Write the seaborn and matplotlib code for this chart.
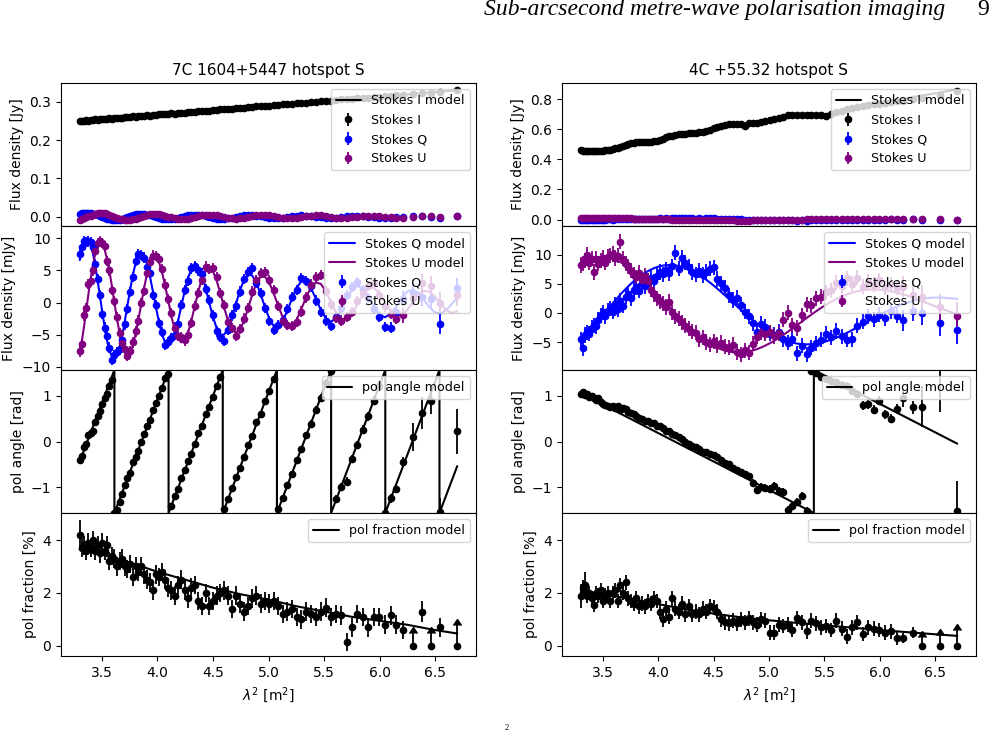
import numpy as np
import matplotlib
matplotlib.use("Agg")
import matplotlib.pyplot as plt
import seaborn as sns

sns.set_style("ticks")
plt.rcParams.update({
    "font.family": ["DejaVu Sans"],
    "font.size": 10,
    "axes.edgecolor": "black",
    "axes.labelcolor": "black",
    "text.color": "black",
    "xtick.color": "black",
    "ytick.color": "black",
    "axes.linewidth": 0.8,
    "xtick.major.size": 3.5, "ytick.major.size": 3.5,
    "xtick.major.width": 0.8, "ytick.major.width": 0.8,
    "xtick.direction": "out", "ytick.direction": "out",
    "axes.titlesize": 11, "axes.labelsize": 10,
    "xtick.labelsize": 10, "ytick.labelsize": 10,
    "legend.fontsize": 9.1,
    "legend.framealpha": 0.8,
    "legend.edgecolor": "0.8",
    "legend.fancybox": True,
})

nan = np.nan

# ---------------- data ----------------
titles = ["7C 1604+5447 hotspot S", "4C +55.32 hotspot S"]
header_text = "Sub-arcsecond metre-wave polarisation imaging"
page_number = "9"
xticks = [3.5, 4.0, 4.5, 5.0, 5.5, 6.0, 6.5]

lam2 = [3.300, 3.319, 3.338, 3.358, 3.378, 3.398, 3.418, 3.439, 3.460, 3.481,
        3.502, 3.523, 3.545, 3.567, 3.589, 3.612, 3.635, 3.658, 3.681, 3.705,
        3.729, 3.753, 3.778, 3.803, 3.828, 3.853, 3.879, 3.905, 3.932, 3.959,
        3.986, 4.013, 4.041, 4.069, 4.097, 4.126, 4.155, 4.184, 4.214, 4.244,
        4.275, 4.306, 4.337, 4.369, 4.401, 4.433, 4.466, 4.499, 4.533, 4.567,
        4.601, 4.636, 4.671, 4.707, 4.743, 4.779, 4.816, 4.853, 4.891, 4.929,
        4.968, 5.007, 5.047, 5.087, 5.128, 5.169, 5.211, 5.253, 5.296, 5.339,
        5.383, 5.427, 5.472, 5.517, 5.563, 5.609, 5.656, 5.703, 5.751, 5.799,
        5.848, 5.897, 5.947, 5.997, 6.048, 6.100, 6.152, 6.210, 6.300, 6.380,
        6.460, 6.545, 6.700]

# ---- 7C 1604+5447 (left) ----
stokes_i_left = [0.250, 0.251, 0.251, 0.252, 0.251, 0.253, 0.252, 0.254, 0.253, 0.255,
                 0.254, 0.256, 0.255, 0.257, 0.256, 0.258, 0.257, 0.259, 0.258, 0.260,
                 0.261, 0.260, 0.262, 0.261, 0.263, 0.262, 0.264, 0.265, 0.264, 0.266,
                 0.266, 0.267, 0.268, 0.267, 0.269, 0.270, 0.269, 0.271, 0.272, 0.271,
                 0.273, 0.274, 0.273, 0.275, 0.276, 0.277, 0.277, 0.278, 0.279, 0.280,
                 0.281, 0.281, 0.282, 0.284, 0.283, 0.285, 0.286, 0.286, 0.288, 0.288,
                 0.289, 0.290, 0.291, 0.292, 0.293, 0.294, 0.295, 0.296, 0.297, 0.298,
                 0.299, 0.300, 0.301, 0.302, 0.303, 0.304, 0.306, 0.306, 0.308, 0.309,
                 0.310, 0.311, 0.312, 0.313, 0.315, 0.316, 0.317, 0.318, 0.321, 0.322,
                 0.324, 0.326, 0.331]
stokes_q_left = [7.5, 8.7, 9.6, 9.4, 9.5, 9.4, 8.6, 6.0, 3.6, 1.2,
                 -1.8, -3.9, -5.2, -7.0, -8.9, -8.2, -7.7, -7.3, -5.9, -3.4,
                 -1.0, 1.6, 4.0, 6.5, 7.5, 7.4, 7.0, 5.6, 4.6, 1.2,
                 -0.4, -3.2, -4.6, -6.6, -6.2, -5.5, -5.0, -3.3, -0.4, 2.0,
                 3.4, 5.3, 5.7, 5.0, 4.5, 2.1, 0.4, -2.0, -4.5, -5.4,
                 -6.0, -4.2, -2.0, -0.6, 1.7, 3.7, 4.7, 5.3, 3.0, 1.5,
                 -0.9, -2.9, -4.2, -3.5, -2.7, -1.0, 0.9, 2.0, 3.8, 3.3,
                 2.5, 0.3, -1.5, -2.8, -3.6, -2.3, -0.8, 1.2, 2.4, 3.2,
                 2.0, 0.7, -1.0, -2.2, -3.8, -3.9, -1.5, 0.6, 1.5, 0.8,
                 0.5, -3.3, 2.2]
stokes_u_left = [-7.6, -6.5, -2.0, -0.8, 2.9, 3.3, 5.0, 8.0, 9.2, 9.6,
                 9.3, 8.8, 6.5, 5.0, 2.0, 0.2, -2.3, -4.8, -6.3, -7.2,
                 -8.3, -7.5, -6.2, -4.5, -2.8, -0.1, 1.8, 4.6, 6.3, 7.3,
                 7.2, 6.8, 5.2, 2.8, 0.5, -1.6, -3.9, -5.2, -5.4, -5.9,
                 -5.0, -3.2, -0.5, 1.5, 3.5, 5.6, 5.2, 5.4, 4.0, 1.5,
                 -0.4, -3.0, -4.0, -5.2, -4.1, -2.5, -0.8, 1.7, 3.5, 4.6,
                 4.7, 3.5, 2.0, -0.5, -2.8, -3.5, -3.7, -3.0, -1.4, 0.8,
                 2.8, 3.9, 4.3, 1.8, -0.3, -2.4, -2.8, -2.3, -1.5, 0.2,
                 1.5, 2.6, 3.0, 1.2, -0.6, -1.8, -2.5, -2.0, 0.7, 3.0,
                 2.6, 0.0, 1.1]
pol_angle_left = [-0.41, -0.31, -0.12, -0.06, 0.14, 0.18, 0.22, 0.42, 0.57, 0.68,
                  0.82, 0.95, 1.05, 1.22, 1.36, -1.56, -1.50, -1.33, -1.15, -0.95,
                  -0.80, -0.70, -0.45, -0.33, -0.21, 0.00, 0.16, 0.34, 0.47, 0.69,
                  0.85, 1.00, 1.17, 1.40, 1.49, -1.42, -1.19, -1.04, -0.80, -0.62,
                  -0.43, -0.28, -0.05, 0.18, 0.34, 0.60, 0.75, 0.98, 1.21, 1.41,
                  -1.49, -1.27, -1.03, -0.78, -0.58, -0.35, -0.07, 0.11, 0.42, 0.60,
                  0.89, 1.10, 1.38, -1.48, -1.25, -0.96, -0.72, -0.41, -0.16, 0.14,
                  0.38, 0.69, 0.96, 1.28, 1.54, -1.27, -1.00, -0.88, -0.38, -0.08,
                  0.26, 0.55, 0.90, 1.22, -1.56, -1.25, -1.04, -0.45, 0.10, 0.63,
                  0.90, -1.55, 0.22]
pol_frac_left = [4.2, 3.7, 3.8, 3.6, 3.9, 3.7, 4.0, 3.6, 3.8, 3.5,
                 3.9, 3.6, 3.8, 3.2, 3.4, 3.3, 3.0, 3.2, 3.3, 3.0,
                 2.9, 3.1, 2.6, 3.0, 2.8, 3.0, 2.7, 2.5, 2.4, 2.1,
                 2.7, 2.6, 2.8, 2.5, 2.2, 2.1, 1.9, 2.3, 2.5, 2.1,
                 1.8, 2.2, 2.3, 1.7, 1.5, 2.0, 1.5, 1.7, 1.9, 2.0,
                 2.1, 1.9, 1.4, 1.9, 1.6, 1.3, 1.5, 1.8, 1.9, 1.6,
                 1.7, 1.6, 1.7, 1.5, 1.2, 1.3, 1.4, 1.1, 1.0, 1.3,
                 1.2, 1.1, 1.3, 1.45, 1.1, 1.2, 1.15, 0.15, 0.7, 1.2,
                 1.1, 0.7, 1.1, 1.1, 0.8, 1.15, 0.8, 0.6, nan, 1.3,
                 nan, 0.7, nan]
err_i_left = 0.002
err_qu_left = [0.8] * 87 + [1.2, 1.3, 1.4, 1.5, 1.6, 1.6]
err_angle_left = [0.05] * 70 + [0.09] * 10 + [0.1] * 7 + [0.12, 0.3, 0.35, 0.3, 0.3, 0.5]
err_frac_left = [0.55] + [0.35] * 86 + [0.35, 0.3, 0.4, 0.3, 0.35, 0.3]
limit_lam2_left = [6.300, 6.460, 6.700]
limit_frac_left = [0.5, 0.5, 0.8]

model_i_lam2_left = [3.30, 3.80, 4.30, 4.80, 5.30, 5.80, 6.30, 6.70]
model_i_left = [0.250, 0.2618, 0.2735, 0.2853, 0.2970, 0.3088, 0.3205, 0.3300]
model_qu_tail_lam2 = [6.20, 6.25, 6.30, 6.35, 6.40, 6.45, 6.50, 6.55, 6.60, 6.65, 6.70]
model_q_left = [6.6, 8.2, 9.3, 9.9, 9.8, 9.0, 7.7, 5.8, 3.5, 1.1,
                -1.4, -3.7, -5.9, -7.4, -8.4, -8.7, -8.2, -7.0, -5.3, -3.0,
                -0.5, 1.9, 4.3, 6.1, 7.2, 7.6, 7.2, 6.0, 4.1, 1.7,
                -0.7, -3.0, -5.0, -6.2, -6.7, -6.2, -4.9, -3.0, -0.6, 1.7,
                3.8, 5.2, 5.8, 5.4, 4.2, 2.3, 0.0, -2.2, -4.0, -5.0,
                -5.0, -4.0, -2.3, -0.2, 1.9, 3.5, 4.4, 4.2, 3.1, 1.3,
                -0.7, -2.5, -3.7, -3.8, -2.9, -1.3, 0.6, 2.3, 3.3, 3.2,
                2.2, 0.6, -1.2, -2.5, -3.0, -2.4, -1.1, 0.6, 2.0, 2.6,
                2.2, 1.0, -0.5, -1.8, -2.3, -1.8, -0.6,
                0.69, 1.69, 1.98, 1.48, 0.43, -0.73, -1.55, -1.72, -1.20, -0.25, 0.74]
model_u_left = [-7.9, -6.0, -3.8, -1.3, 1.3, 3.7, 5.8, 7.5, 8.7, 9.2,
                9.1, 8.3, 6.8, 4.9, 2.6, 0.0, -2.5, -4.7, -6.5, -7.7,
                -8.1, -7.8, -6.7, -4.9, -2.7, -0.3, 2.2, 4.4, 6.0, 7.0,
                7.0, 6.3, 4.7, 2.6, 0.3, -2.2, -4.2, -5.6, -6.2, -5.9,
                -4.7, -2.8, -0.5, 1.8, 3.8, 5.0, 5.4, 4.9, 3.4, 1.4,
                -0.8, -2.9, -4.2, -4.7, -4.2, -2.9, -0.9, 1.2, 3.0, 4.0,
                4.0, 3.1, 1.4, -0.5, -2.3, -3.4, -3.5, -2.7, -1.0, 0.8,
                2.4, 3.1, 2.9, 1.7, 0.0, -1.6, -2.6, -2.7, -1.8, -0.3,
                1.2, 2.2, 2.3, 1.5, 0.1, -1.3, -2.1,
                -1.97, -1.13, 0.10, 1.24, 1.82, 1.67, 0.88, -0.22, -1.17, -1.62, -1.39]
model_angle_lam2_left = [3.300, 3.612, 3.612, 4.100, 4.100, 4.588, 4.588, 5.076,
                         5.076, 5.564, 5.564, 6.052, 6.052, 6.540, 6.540, 6.700]
model_angle_left = [-0.438, 1.571, -1.571, 1.571, -1.571, 1.571, -1.571, 1.571,
                    -1.571, 1.571, -1.571, 1.571, -1.571, 1.571, -1.571, -0.541]
model_frac_lam2 = [3.30, 3.50, 3.75, 4.00, 4.25, 4.50, 4.75, 5.00, 5.25, 5.50,
                   5.75, 6.00, 6.25, 6.50, 6.70]
model_frac_left = [3.65, 3.45, 3.15, 2.80, 2.50, 2.20, 1.95, 1.75, 1.50, 1.30,
                   1.10, 0.95, 0.80, 0.60, 0.47]

# ---- 4C +55.32 (right) ----
stokes_i_right = [0.460, 0.458, 0.456, 0.455, 0.454, 0.455, 0.456, 0.455, 0.457, 0.457,
                  0.459, 0.461, 0.464, 0.466, 0.469, 0.473, 0.477, 0.484, 0.492, 0.499,
                  0.505, 0.509, 0.511, 0.513, 0.514, 0.516, 0.517, 0.518, 0.519, 0.521,
                  0.524, 0.529, 0.537, 0.547, 0.554, 0.559, 0.564, 0.567, 0.569, 0.572,
                  0.574, 0.577, 0.579, 0.582, 0.585, 0.589, 0.597, 0.608, 0.618, 0.626,
                  0.631, 0.634, 0.636, 0.635, 0.639, 0.623, 0.641, 0.643, 0.646, 0.650,
                  0.655, 0.660, 0.667, 0.675, 0.685, 0.695, 0.698, 0.696, 0.695, 0.697,
                  0.699, 0.698, 0.696, 0.690, 0.705, 0.714, 0.724, 0.733, 0.741, 0.749,
                  0.756, 0.762, 0.767, 0.772, 0.777, 0.782, 0.787, 0.792, 0.802, 0.811,
                  nan, 0.830, 0.855]
stokes_q_right = [-4.5, -6.1, -3.8, -3.3, -3.6, -2.6, -2.1, -2.3, -1.2, -0.4,
                  0.1, -0.6, 0.4, 0.8, 0.2, 1.5, 0.6, 2.1, 1.2, 2.8,
                  3.3, 2.5, 3.9, 4.4, 3.8, 5.0, 4.6, 5.5, 6.0, 5.4,
                  6.4, 7.0, 6.6, 7.4, 6.8, 8.0, 10.3, 7.6, 9.4, 8.6,
                  7.9, 7.0, 6.6, 7.2, 6.5, 7.0, 7.6, 7.8, 5.8, 5.1,
                  4.3, 3.0, 2.2, 2.6, 1.4, 0.2, -0.6, -1.8, -3.2, -1.9,
                  -2.4, -3.6, -3.8, -3.2, -4.5, -5.1, -4.4, -6.9, -5.6, -7.1,
                  -6.0, -5.2, -4.6, -3.6, -4.2, -3.1, -4.0, -4.6, -4.5, -2.2,
                  -1.5, -0.6, -1.1, -0.3, -0.9, 0.3, -0.5, -1.3, 0.4, 0.0,
                  nan, -1.7, -3.0]
stokes_u_right = [8.2, 8.5, 9.0, 10.0, 8.6, 9.3, 7.0, 9.3, 8.4, 9.0,
                  9.4, 8.6, 9.6, 9.9, 10.1, 9.4, 9.8, 12.2, 9.3, 8.4,
                  8.0, 7.2, 6.5, 6.1, 6.9, 5.6, 6.4, 5.5, 4.0, 3.2,
                  2.5, 2.0, 1.6, 1.0, 1.9, 0.1, -0.6, -1.0, -1.6, -2.2,
                  -2.7, -3.2, -3.4, -4.5, -4.2, -5.0, -5.4, -4.9, -5.5, -5.1,
                  -5.8, -6.0, -5.5, -6.7, -7.1, -6.4, -6.8, -5.3, -4.1, -3.4,
                  -3.6, -3.3, -4.0, -3.5, -1.2, 0.0, -2.1, -2.6, -0.4, 1.5,
                  1.3, 2.5, 2.8, 3.5, 3.9, 5.2, 4.6, 5.9, 5.0, 6.0,
                  4.5, 5.3, 4.8, 5.6, 4.4, 4.9, 4.3, 4.5, 3.0, 2.8,
                  nan, 1.0, -0.5]
pol_angle_right = [1.05, 1.08, 1.02, 1.04, 0.97, 1.00, 0.95, 0.92, 0.96, 0.86,
                   0.82, 0.80, 0.79, 0.75, 0.78, 0.73, 0.77, 0.70, 0.74, 0.71,
                   0.64, 0.62, 0.60, 0.55, 0.52, 0.50, 0.45, 0.46, 0.41, 0.40,
                   0.35, 0.33, 0.29, 0.24, 0.22, 0.17, 0.15, 0.09, 0.06, -0.02,
                   -0.05, -0.09, -0.12, -0.17, -0.22, -0.23, -0.27, -0.30, -0.35, -0.40,
                   -0.47, -0.50, -0.58, -0.62, -0.68, -0.72, -0.76, -0.92, -1.07, -1.00,
                   -1.03, -1.05, -0.98, -1.08, -1.12, -1.50, -1.41, -1.33, -1.20, -1.52,
                   1.55, 1.50, 1.42, 1.38, 1.33, 1.30, 1.25, 1.22, 1.12, 1.05,
                   0.80, 0.82, 0.70, 0.90, 0.60, 0.50, 0.72, 0.95, 0.75, 0.76,
                   nan, 1.75, -1.52]
pol_frac_right = [1.9, 2.2, 2.3, 1.9, 2.0, 1.8, 1.55, 2.0, 1.9, 2.1,
                  1.7, 1.9, 2.0, 1.7, 2.0, 2.1, 1.7, 2.3, 2.0, 2.4,
                  1.8, 1.7, 1.6, 1.8, 1.5, 1.6, 1.5, 1.7, 1.6, 1.8,
                  1.7, 1.3, 1.0, 1.4, 1.1, 1.8, 1.4, 1.3, 1.6, 1.2,
                  1.5, 1.2, 1.3, 1.2, 1.4, 1.3, 1.5, 1.45, 1.3, 1.0,
                  0.9, 0.85, 0.95, 0.85, 1.0, 0.9, 1.05, 0.9, 0.8, 1.0,
                  0.95, 0.5, 0.5, 0.8, 0.75, 0.8, 0.6, 1.05, 0.9, 0.55,
                  0.95, 0.85, 0.7, 0.75, 0.6, 0.95, 0.65, 0.35, 0.7, 0.9,
                  0.45, 0.7, 0.65, 0.6, 0.5, 0.55, 0.3, 0.3, 0.5, nan,
                  nan, nan, nan]
err_i_right = 0.004
err_qu_right = [1.3] * 87 + [1.8, 1.8, 2.0, 2.0, 2.2, 2.4]
err_angle_right = [0.06] * 57 + [0.09] * 13 + [0.08] * 10 + [0.1] * 7 + [0.2, 0.15, 0.45, 0.5, 1.1, 0.65]
err_frac_right = [0.45, 0.3, 0.5] + [0.28] * 84 + [0.2, 0.2, 0.25, 0.3, 0.3, 0.3]
limit_lam2_right = [6.380, 6.545, 6.700]
limit_frac_right = [0.35, 0.4, 0.6]

model_i_lam2_right = [3.30, 3.45, 3.55, 3.65, 3.73, 3.85, 3.98, 4.05, 4.13, 4.25, 4.43,
                      4.50, 4.58, 4.70, 4.90, 5.05, 5.20, 5.50, 5.60, 5.84, 6.30, 6.70]
model_i_right = [0.459, 0.456, 0.463, 0.481, 0.506, 0.515, 0.523, 0.540, 0.560, 0.572, 0.589,
                 0.607, 0.628, 0.637, 0.647, 0.667, 0.697, 0.698, 0.712, 0.760, 0.815, 0.866]
model_q_right = [-5.25, -4.83, -4.37, -3.91, -3.43, -2.94, -2.47, -1.96, -1.45, -0.93,
                 -0.42, 0.09, 0.60, 1.12, 1.62, 2.13, 2.64, 3.14, 3.61, 4.08,
                 4.55, 4.99, 5.41, 5.81, 6.19, 6.53, 6.86, 7.14, 7.40, 7.64,
                 7.83, 7.99, 8.11, 8.17, 8.20, 8.19, 8.14, 8.05, 7.90, 7.71,
                 7.48, 7.20, 6.88, 6.52, 6.12, 5.69, 5.21, 4.71, 4.17, 3.61,
                 3.03, 2.43, 1.81, 1.19, 0.57, -0.05, -0.66, -1.25, -1.83, -2.39,
                 -2.91, -3.39, -3.84, -4.23, -4.59, -4.87, -5.11, -5.27, -5.36, -5.41,
                 -5.37, -5.27, -5.11, -4.88, -4.59, -4.25, -3.85, -3.43, -2.95, -2.45,
                 -1.93, -1.41, -0.88, -0.36, 0.15, 0.63, 1.07, 1.51, 2.05, 2.40,
                 2.59, 2.64, 2.41]
model_u_right = [8.58, 8.78, 8.97, 9.13, 9.28, 9.39, 9.49, 9.55, 9.59, 9.61,
                 9.60, 9.56, 9.49, 9.39, 9.27, 9.12, 8.93, 8.71, 8.47, 8.19,
                 7.88, 7.56, 7.18, 6.78, 6.37, 5.94, 5.46, 4.97, 4.45, 3.91,
                 3.36, 2.80, 2.22, 1.63, 1.05, 0.46, -0.14, -0.73, -1.32, -1.90,
                 -2.46, -3.00, -3.52, -4.03, -4.48, -4.91, -5.31, -5.67, -5.98, -6.24,
                 -6.47, -6.63, -6.74, -6.80, -6.79, -6.74, -6.62, -6.45, -6.22, -5.94,
                 -5.60, -5.22, -4.78, -4.31, -3.79, -3.26, -2.68, -2.10, -1.50, -0.89,
                 -0.29, 0.30, 0.87, 1.41, 1.92, 2.38, 2.80, 3.16, 3.47, 3.70,
                 3.88, 3.98, 4.02, 3.98, 3.88, 3.72, 3.49, 3.18, 2.61, 2.03,
                 1.42, 0.79, -0.23]
model_angle_lam2_right = [3.300, 5.405, 5.405, 6.700]
model_angle_right = [1.060, -1.571, 1.571, -0.048]
model_frac_right = [2.02, 1.95, 1.78, 1.58, 1.38, 1.22, 1.08, 0.97, 0.87, 0.78,
                    0.69, 0.60, 0.52, 0.44, 0.38]

ylims = {
    "left": [(-0.024, 0.349), (-10.5, 11.9), (-1.5708, 1.5708), (-0.38, 5.02)],
    "right": [(-0.043, 0.909), (-9.8, 14.9), (-1.5708, 1.5708), (-0.38, 5.02)],
}
yticks = {
    "left": [[0.0, 0.1, 0.2, 0.3], [-10, -5, 0, 5, 10], [-1, 0, 1], [0, 2, 4]],
    "right": [[0.0, 0.2, 0.4, 0.6, 0.8], [-5, 0, 5, 10], [-1, 0, 1], [0, 2, 4]],
}
ylabels = ["Flux density [Jy]", "Flux density [mJy]", "pol angle [rad]", "pol fraction [%]"]

# ---------------- figure ----------------
W, H = 1004, 735
fig = plt.figure(figsize=(W / 100, H / 100), dpi=100)
rows = [(83, 226), (226, 370), (370, 513), (513, 656)]
cols = [(61, 476), (562, 976)]

sources = [
    dict(key="left", I=stokes_i_left, Q=stokes_q_left, U=stokes_u_left,
         ang=pol_angle_left, frac=pol_frac_left, eI=err_i_left, eQU=err_qu_left,
         eang=err_angle_left, efrac=err_frac_left, limx=limit_lam2_left, limv=limit_frac_left,
         mIx=model_i_lam2_left, mI=model_i_left,
         mQUx=lam2[:87] + model_qu_tail_lam2, mQ=model_q_left, mU=model_u_left,
         mAx=model_angle_lam2_left, mA=model_angle_left, mF=model_frac_left),
    dict(key="right", I=stokes_i_right, Q=stokes_q_right, U=stokes_u_right,
         ang=pol_angle_right, frac=pol_frac_right, eI=err_i_right, eQU=err_qu_right,
         eang=err_angle_right, efrac=err_frac_right, limx=limit_lam2_right, limv=limit_frac_right,
         mIx=model_i_lam2_right, mI=model_i_right,
         mQUx=lam2, mQ=model_q_right, mU=model_u_right,
         mAx=model_angle_lam2_right, mA=model_angle_right, mF=model_frac_right),
]

eb = dict(fmt='o', ms=4.5, elinewidth=1.3, capsize=0)
lw_model = 1.5
x = np.array(lam2)

for c, src in enumerate(sources):
    l, r = cols[c]
    axs = []
    for (t, b) in rows:
        ax = fig.add_axes([l / W, 1 - b / H, (r - l) / W, (b - t) / H],
                          sharex=axs[0] if axs else None)
        axs.append(ax)
    Q = np.array(src["Q"])
    U = np.array(src["U"])
    eQU = np.array(src["eQU"])

    # panel 1: Stokes I, Q, U in Jy
    ax = axs[0]
    ax.errorbar(x, src["I"], yerr=src["eI"], color='black', label='Stokes I', **eb)
    ax.errorbar(x, Q / 1000, yerr=eQU / 1000, color='blue', label='Stokes Q', **eb)
    ax.errorbar(x, U / 1000, yerr=eQU / 1000, color='purple', label='Stokes U', **eb)
    sns.lineplot(x=src["mIx"], y=src["mI"], ax=ax, color='black', lw=lw_model,
                 label='Stokes I model', estimator=None, sort=False)
    ax.legend(loc='upper right')
    ax.set_title(titles[c])

    # panel 2: Q, U in mJy
    ax = axs[1]
    ax.errorbar(x, Q, yerr=eQU, color='blue', label='Stokes Q', **eb)
    ax.errorbar(x, U, yerr=eQU, color='purple', label='Stokes U', **eb)
    sns.lineplot(x=src["mQUx"], y=src["mQ"], ax=ax, color='blue', lw=lw_model,
                 label='Stokes Q model', estimator=None, sort=False)
    sns.lineplot(x=src["mQUx"], y=src["mU"], ax=ax, color='purple', lw=lw_model,
                 label='Stokes U model', estimator=None, sort=False)
    ax.legend(loc='upper right')

    # panel 3: polarisation angle
    ax = axs[2]
    ax.errorbar(x, src["ang"], yerr=src["eang"], color='black', **eb)
    sns.lineplot(x=src["mAx"], y=src["mA"], ax=ax, color='black', lw=lw_model,
                 label='pol angle model', estimator=None, sort=False)
    ax.legend(loc='upper right')

    # panel 4: polarisation fraction
    ax = axs[3]
    ax.errorbar(x, src["frac"], yerr=src["efrac"], color='black', **eb)
    ax.errorbar(src["limx"], np.zeros(len(src["limx"])), yerr=src["limv"], lolims=True,
                color='black', **eb)
    sns.lineplot(x=model_frac_lam2, y=src["mF"], ax=ax, color='black', lw=lw_model,
                 label='pol fraction model', estimator=None, sort=False)
    ax.legend(loc='upper right')
    ax.set_xlabel(r'$\lambda^2$ [m$^2$]')

    for i, ax in enumerate(axs):
        ax.set_ylim(*ylims[src["key"]][i])
        ax.set_yticks(yticks[src["key"]][i])
        ax.set_ylabel(ylabels[i])
        ax.set_xlim(3.131, 6.869)
        if i < 3:
            ax.tick_params(axis='x', which='both', bottom=False, labelbottom=False)
        else:
            ax.set_xticks(xticks)

fig.text(945 / W, 1 - 15 / H, header_text, ha='right', va='baseline',
         family='Liberation Serif', style='italic', fontsize=17)
fig.text(983 / W, 1 - 15 / H, page_number, ha='center', va='baseline',
         family='Liberation Serif', fontsize=17)
fig.text(507 / W, 1 - 728 / H, "2", ha='center', va='center',
         family='Liberation Serif', fontsize=6)

fig.savefig('out.png', dpi=100)
